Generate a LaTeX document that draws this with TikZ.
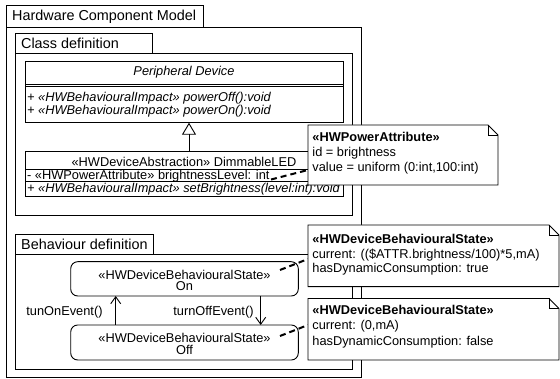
\documentclass[tikz,border=0pt]{standalone}
\usepackage{fontspec}
\setmainfont{Liberation Sans}
\usetikzlibrary{arrows.meta}
\begin{document}
\begin{tikzpicture}[x=1pt,y=-1pt,line width=0.9pt,
  txt/.style={font=\fontsize{12.8}{15}\selectfont,inner sep=0pt},
  lefttxt/.style={txt,anchor=base west},
  midtxt/.style={txt,anchor=base},
  itxt/.style={lefttxt,font=\fontsize{12.8}{15}\selectfont\itshape},
  ttl/.style={font=\fontsize{14.4}{16}\selectfont,inner sep=0pt,anchor=base west},
  boxnode/.style={draw,inner sep=0pt,outer sep=0pt,anchor=north west},
  statebox/.style={draw,rounded corners=7pt,inner sep=0pt,outer sep=0pt,anchor=north west},
  notelink/.style={line width=2pt,dash pattern=on 6pt off 4pt},
  trans/.style={-{Straight Barb[length=7pt,width=10pt,line width=0.9pt]}},
  generalize/.style={-{Triangle[open,length=12pt,width=14pt,fill=white,line width=0.9pt]}},
  notefill/.style={fill=white,draw}]
\useasboundingbox (0,0) rectangle (560,379);

% outer frame
\node[boxnode,minimum width=197pt,minimum height=22pt] (hwtab) at (6,5) {};
\node[boxnode,minimum width=355pt,minimum height=350pt] (hwframe) at (6,27) {};
\node[ttl] (hwtitle) at (11.7,21) {Hardware Component Model};

% class definition frame
\node[boxnode,minimum width=136.3pt,minimum height=20pt] (cdtab) at (15.7,33) {};
\node[boxnode,minimum width=336.3pt,minimum height=162pt] (cdframe) at (15.7,53) {};
\node[ttl] (cdtitle) at (20.7,48.5) {Class definition};

% Peripheral Device class
\node[boxnode,minimum width=318pt,minimum height=61.7pt] (pd) at (25,61) {};
\draw (25,84.3) -- (343,84.3);
\draw (25,86.7) -- (343,86.7);
\node[midtxt,font=\fontsize{12.8}{15}\selectfont\itshape] (pdname) at (184,75.5) {Peripheral Device};
\node[itxt] (pdop1) at (26.7,101.2) {+ «HWBehaviouralImpact» powerOff():void};
\node[itxt] (pdop2) at (26.7,114.5) {+ «HWBehaviouralImpact» powerOn():void};

% DimmableLED class
\node[boxnode,minimum width=318pt,minimum height=44.3pt] (led) at (25,151.7) {};
\draw (25,169.3) -- (343,169.3);
\draw (25,181.7) -- (343,181.7);
\node[midtxt] (ledname) at (184,166.5) {«HWDeviceAbstraction» DimmableLED};
\node[lefttxt] (ledattr) at (26.7,179.5) {- «HWPowerAttribute» brightnessLevel: int};
\node[itxt] (ledop) at (26.7,192.8) {+ «HWBehaviouralImpact» setBrightness(level:int):void};

% generalization
\coordinate (gx) at (189,0);
\draw[generalize] (gx |- led.north) -- (gx |- pd.south);

% behaviour definition frame
\node[boxnode,minimum width=137.3pt,minimum height=20pt] (bdtab) at (15.7,234) {};
\node[boxnode,minimum width=336.3pt,minimum height=115pt] (bdframe) at (15.7,254) {};
\node[ttl] (bdtitle) at (20.7,250) {Behaviour definition};

% states
\node[statebox,minimum width=227.6pt,minimum height=34.3pt] (on) at (70.7,261.7) {};
\node[midtxt] (onst) at (184.5,279.5) {«HWDeviceBehaviouralState»};
\node[midtxt] (onname) at (184.5,291) {On};
\node[statebox,minimum width=227.6pt,minimum height=35pt] (off) at (70.7,325) {};
\node[midtxt] (offst) at (184.5,342.8) {«HWDeviceBehaviouralState»};
\node[midtxt] (offname) at (184.5,354.5) {Off};

% transitions
\coordinate (tonx) at (115.7,0);
\coordinate (toffx) at (260.7,0);
\draw[trans] (tonx |- off.north) -- (tonx |- on.south);
\draw[trans] (toffx |- on.south) -- (toffx |- off.north);
\node[txt,anchor=base east] (tonlbl) at (103,316) {tunOnEvent()};
\node[txt,anchor=base east] (tofflbl) at (254,315.5) {turnOffEvent()};

% note anchors and links
\coordinate (attrend) at (271,179.5);
\coordinate (onend) at (280,270);
\coordinate (offend) at (280,336);
\coordinate (n0in) at (308,170);
\coordinate (n1in) at (308,259);
\coordinate (n2in) at (308,325);
\draw[notelink] (attrend) -- (n0in);
\draw[notelink] (onend) -- (n1in);
\draw[notelink] (offend) -- (n2in);

% notes
\draw[notefill] (308,125) -- (488,125) -- (498,135) -- (498,185) -- (308,185) -- cycle;
\draw (488,125) -- (488,135) -- (498,135);
\node[lefttxt,font=\fontsize{12.8}{15}\selectfont\bfseries] (n0a) at (312,141.5) {«HWPowerAttribute»};
\node[lefttxt] (n0b) at (312,156.5) {id = brightness};
\node[lefttxt] (n0c) at (312,171.5) {value = uniform (0:int,100:int)};

\draw[notefill] (308,225) -- (549,225) -- (559,235) -- (559,286.7) -- (308,286.7) -- cycle;
\draw (549,225) -- (549,235) -- (559,235);
\node[lefttxt,font=\fontsize{12.8}{15}\selectfont\bfseries] (n1a) at (312,244) {«HWDeviceBehaviouralState»};
\node[lefttxt] (n1b) at (312,258.5) {current: ((\$ATTR.brightness/100)*5,mA)};
\node[lefttxt] (n1c) at (312,273) {hasDynamicConsumption: true};

\draw[notefill] (308,298.5) -- (549,298.5) -- (559,308.5) -- (559,360) -- (308,360) -- cycle;
\draw (549,298.5) -- (549,308.5) -- (559,308.5);
\node[lefttxt,font=\fontsize{12.8}{15}\selectfont\bfseries] (n2a) at (312,314.5) {«HWDeviceBehaviouralState»};
\node[lefttxt] (n2b) at (312,330) {current: (0,mA)};
\node[lefttxt] (n2c) at (312,345.5) {hasDynamicConsumption: false};
\end{tikzpicture}
\end{document}
